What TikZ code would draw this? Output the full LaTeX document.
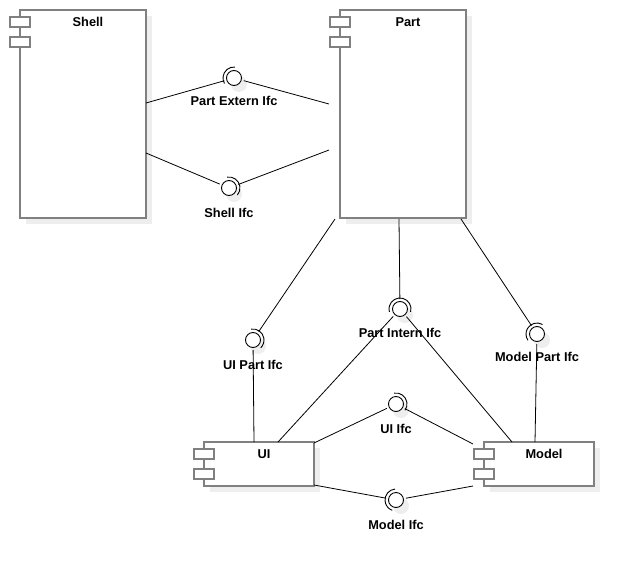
\documentclass[tikz,border=0pt]{standalone}
\usepackage{fontspec}
\setmainfont{Liberation Sans}
\usetikzlibrary{calc}
\definecolor{compgray}{HTML}{808080}
\definecolor{shadowgray}{HTML}{EEEEEE}
\begin{document}
\begin{tikzpicture}[x=1pt,y=-1pt,
  comp/.style={draw=compgray,line width=1.4pt,fill=white,rectangle,inner sep=0pt,outer sep=0pt,anchor=north west},
  tabbox/.style={draw=compgray,line width=1.4pt,fill=white,rectangle,inner sep=0pt,outer sep=0pt,minimum width=20pt,minimum height=10pt},
  ball/.style={draw=black,line width=0.9pt,fill=white,circle,inner sep=0pt,minimum size=15pt,outer sep=2.5pt},
  sockline/.style={draw=black,line width=0.9pt},
  lbl/.style={font=\bfseries\fontsize{12.8}{15}\selectfont,inner sep=0pt},
  wire/.style={draw=black,line width=0.8pt},
  shadowfill/.style={fill=shadowgray}
]
\useasboundingbox (0,0) rectangle (634,578);

% shadows
\fill[shadowfill] (26,16) rectangle (152,224);
\fill[shadowfill] (346,16) rectangle (472,224);
\fill[shadowfill] (210,448) rectangle (320,492);
\fill[shadowfill] (490,448) rectangle (600,492);
\foreach \p in {(234,78),(229,188),(400,309),(253,340),(537,334),(396,404),(396,500)}{
  \fill[shadowfill] \p ++(5pt,-6pt) circle[radius=8pt];
}

% components
\node[comp,minimum width=126pt,minimum height=208pt] (shell) at (20,10) {};
\node[comp,minimum width=126pt,minimum height=208pt] (part) at (340,10) {};
\node[comp,minimum width=110pt,minimum height=44pt] (ui) at (204,442) {};
\node[comp,minimum width=110pt,minimum height=44pt] (model) at (484,442) {};
\foreach \c in {shell,part,ui,model}{
  \node[tabbox] (\c tabA) at ($(\c.north west)+(0,12)$) {};
  \node[tabbox] (\c tabB) at ($(\c.north west)+(0,32)$) {};
}
\node[lbl] (shelltitle) at ($(shell.north)+(5,12)$) {Shell};
\node[lbl] (parttitle) at ($(part.north)+(5,12)$) {Part};
\node[lbl] (uititle) at ($(ui.north)+(5,12)$) {UI};
\node[lbl] (modeltitle) at ($(model.north)+(5,12)$) {Model};

% interface balls
\node[ball] (pe) at (234,78) {};
\node[ball] (si) at (229,188) {};
\node[ball] (pi) at (400,309) {};
\node[ball] (up) at (253,340) {};
\node[ball] (mp) at (537,334) {};
\node[ball] (uif) at (396,404) {};
\node[ball] (mi) at (396,500) {};

% sockets (screen angles)
\newcommand\socketarc[3]{\draw[sockline] ($(#1)+(#2:11pt)$) arc[start angle=#2,end angle=#3,radius=11pt];}
\socketarc{pe}{85}{210}
\socketarc{si}{100}{-40}
\socketarc{pi}{-15}{195}
\socketarc{up}{100}{-45}
\socketarc{mp}{60}{215}
\socketarc{uif}{100}{-35}
\socketarc{mi}{95}{250}

% labels
\node[lbl] (pelbl) at ($(pe)+(0,23)$) {Part Extern Ifc};
\node[lbl] (silbl) at ($(si)+(0,25)$) {Shell Ifc};
\node[lbl] (pilbl) at ($(pi)+(0,24)$) {Part Intern Ifc};
\node[lbl] (uplbl) at ($(up)+(0,25)$) {UI Part Ifc};
\node[lbl] (mplbl) at ($(mp)+(0,23)$) {Model Part Ifc};
\node[lbl] (uiflbl) at ($(uif)+(0,25)$) {UI Ifc};
\node[lbl] (milbl) at ($(mi)+(0,25)$) {Model Ifc};

% connection points
\coordinate (sh1) at ($(shell.north east)+(0,93)$);
\coordinate (sh2) at ($(shell.north east)+(0,143)$);
\coordinate (pa1) at ($(part.north west)+(-11,94)$);
\coordinate (pa2) at ($(part.north west)+(-11,140)$);
\coordinate (pb1) at ($(part.south west)+(-5,1)$);
\coordinate (pb2) at ($(part.south west)+(59,1)$);
\coordinate (pb3) at ($(part.south west)+(121,1)$);
\coordinate (ut1) at ($(ui.north west)+(50,0)$);
\coordinate (ut2) at ($(ui.north west)+(74,0)$);
\coordinate (ur1) at ($(ui.north east)+(0,1)$);
\coordinate (ur2) at ($(ui.south east)+(0,-1)$);
\coordinate (mt1) at ($(model.north west)+(28,0)$);
\coordinate (mt2) at ($(model.north west)+(51,0)$);
\coordinate (ml1) at ($(model.north west)+(-11,2)$);
\coordinate (ml2) at ($(model.south west)+(-11,0)$);

% wires
\draw[wire] (sh1) -- (pe);
\draw[wire] (pe) -- (pa1);
\draw[wire] (sh2) -- (si);
\draw[wire] (si) -- (pa2);
\draw[wire] (pb1) -- (up);
\draw[wire] (up) -- (ut1);
\draw[wire] (pb2) -- (pi);
\draw[wire] (pi) -- (ut2);
\draw[wire] (pi) -- (mt1);
\draw[wire] (pb3) -- (mp);
\draw[wire] (mp) -- (mt2);
\draw[wire] (ur1) -- (uif);
\draw[wire] (uif) -- (ml1);
\draw[wire] (ur2) -- (mi);
\draw[wire] (mi) -- (ml2);
\end{tikzpicture}
\end{document}
